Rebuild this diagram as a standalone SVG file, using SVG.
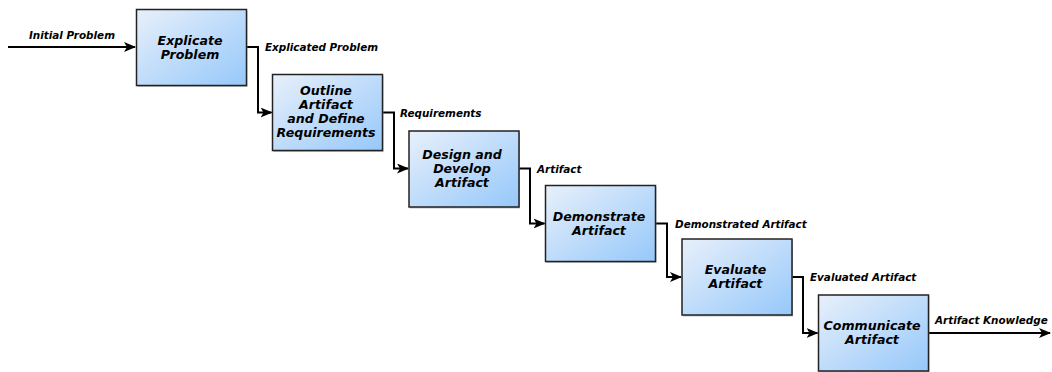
<svg xmlns="http://www.w3.org/2000/svg" width="1052" height="372" viewBox="0 0 1052 372">
<style>
.box{fill:url(#g);stroke:#222;stroke-width:1.5}
.sh{fill:#999;stroke:none;opacity:0.6}
.t{font-family:"DejaVu Sans",sans-serif;font-weight:bold;font-style:italic;font-size:12.6px;fill:#000;text-anchor:middle}
.l{font-family:"DejaVu Sans",sans-serif;font-weight:bold;font-style:italic;font-size:10.4px;fill:#000}
.c{fill:none;stroke:#000;stroke-width:2;marker-end:url(#a)}
</style>
<defs>
<linearGradient id="g" x1="0" y1="0" x2="1" y2="1">
<stop offset="0" stop-color="#e8f0fa"/>
<stop offset="1" stop-color="#96c8fa"/>
</linearGradient>
<marker id="a" viewBox="0 0 12 10" refX="11" refY="5" markerWidth="12" markerHeight="10" markerUnits="userSpaceOnUse" orient="auto">
<path d="M0,0 L12,5 L0,10 L3,5 Z" fill="#000"/>
</marker>
</defs>
<g id="connectors">
<path class="c" d="M8,47 H135"/>
<path class="c" d="M246.5,47 H258 V112.5 H271.5"/>
<path class="c" d="M382.5,112.5 H394 V168.5 H408"/>
<path class="c" d="M519,168.5 H530 V223.5 H544.5"/>
<path class="c" d="M655.5,223.5 H667 V277 H681"/>
<path class="c" d="M792,277 H803 V333 H817.5"/>
<path class="c" d="M928.5,333 H1050"/>
<text class="l" x="29" y="38.5">Initial Problem</text>
<text class="l" x="265" y="51">Explicated Problem</text>
<text class="l" x="400" y="116.5">Requirements</text>
<text class="l" x="537" y="172.5">Artifact</text>
<text class="l" x="675" y="227.5">Demonstrated Artifact</text>
<text class="l" x="810" y="281">Evaluated Artifact</text>
<text class="l" x="935" y="324">Artifact Knowledge</text>
</g>
<g id="n1">
<rect class="sh" x="137.5" y="11" width="110" height="76"/>
<rect class="box" x="136.5" y="9.5" width="110" height="76"/>
<text class="t" x="190" y="44.5">Explicate</text>
<text class="t" x="190" y="58.5">Problem</text>
</g>
<g id="n2">
<rect class="sh" x="273.5" y="76" width="110" height="76"/>
<rect class="box" x="272.5" y="74.5" width="110" height="76"/>
<text class="t" x="326" y="94.5">Outline</text>
<text class="t" x="326" y="108.7">Artifact</text>
<text class="t" x="326" y="122.9">and Define</text>
<text class="t" x="326" y="137.1">Requirements</text>
</g>
<g id="n3">
<rect class="sh" x="410" y="132.5" width="110" height="76"/>
<rect class="box" x="409" y="131" width="110" height="76"/>
<text class="t" x="462" y="158.7">Design and</text>
<text class="t" x="462" y="172.9">Develop</text>
<text class="t" x="462" y="187.1">Artifact</text>
</g>
<g id="n4">
<rect class="sh" x="546.5" y="187" width="110" height="76"/>
<rect class="box" x="545.5" y="185.5" width="110" height="76"/>
<text class="t" x="599" y="220.5">Demonstrate</text>
<text class="t" x="599" y="234.5">Artifact</text>
</g>
<g id="n5">
<rect class="sh" x="683" y="240.5" width="110" height="76"/>
<rect class="box" x="682" y="239" width="110" height="76"/>
<text class="t" x="735.5" y="274">Evaluate</text>
<text class="t" x="735.5" y="288">Artifact</text>
</g>
<g id="n6">
<rect class="sh" x="819.5" y="296.5" width="110" height="76"/>
<rect class="box" x="818.5" y="295" width="110" height="76"/>
<text class="t" x="872" y="330">Communicate</text>
<text class="t" x="872" y="344">Artifact</text>
</g>
</svg>
